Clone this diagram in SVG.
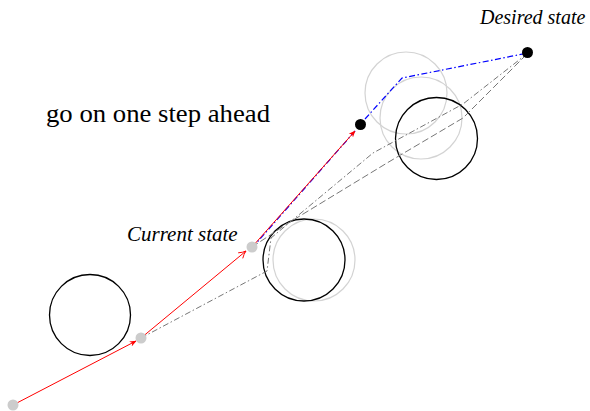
<svg xmlns="http://www.w3.org/2000/svg" width="590" height="411" viewBox="0 0 590 411">
<defs>
<style>
.obs{fill:none;stroke:#000;stroke-width:1.3}
.ghost{fill:none;stroke:#d3d3d3;stroke-width:1.2}
.gdot{fill:#cccccc}
.bdot{fill:#000}
.red{fill:none;stroke:#ff0000;stroke-width:1}
.blue{fill:none;stroke:#0000ff;stroke-width:1.2;stroke-dasharray:6 2.5 1.5 2.5}
.gdd{fill:none;stroke:#777;stroke-width:1;stroke-dasharray:6 2.5 1.5 2.5}
.gd{fill:none;stroke:#777;stroke-width:1;stroke-dasharray:7 3}
.lbl{font-family:"Liberation Serif",serif;fill:#000}
</style>
<marker id="ah" viewBox="0 0 10 10" refX="9" refY="5" markerWidth="7" markerHeight="7" orient="auto" markerUnits="userSpaceOnUse">
<path d="M0,1 L10,5 L0,9 L3,5 Z" fill="#ff0000"/>
</marker>
<marker id="ao" viewBox="0 0 10 10" refX="9" refY="5" markerWidth="9" markerHeight="9" orient="auto" markerUnits="userSpaceOnUse">
<path d="M1,1 Q5,4 9,5 Q5,6 1,9" fill="none" stroke="#ff0000" stroke-width="1"/>
</marker>
</defs>

<g id="obstacles">
<circle id="obs1" class="obs" cx="90" cy="315" r="40.5"/>
<circle id="ghost2" class="ghost" cx="314" cy="260" r="41"/>
<circle id="obs2" class="obs" cx="304" cy="260" r="41"/>
<circle id="ghost3a" class="ghost" cx="406" cy="93" r="41"/>
<circle id="ghost3b" class="ghost" cx="421" cy="118" r="41"/>
<circle id="obs3" class="obs" cx="436.5" cy="138.5" r="41"/>
</g>

<g id="connectors">
<path class="gdd" d="M141,338 L267,271 L271,238 L373,153 L463,104 L528,53"/>
<path class="gd" d="M252,247 L290,222 L387,163 L463,118 L528,53"/>
<path class="blue" d="M252,248 L356,130"/>
<path class="blue" d="M365,119 L402,78 L528,53"/>
<path class="red" d="M13,405 L136,341" marker-end="url(#ah)"/>
<path class="red" d="M141,338 L246,251" marker-end="url(#ao)"/>
<path class="red" d="M252,247 L355,131" marker-end="url(#ah)"/>
</g>

<g id="start"><circle class="gdot" cx="13" cy="405" r="5.5"/></g>
<g id="step1"><circle class="gdot" cx="141" cy="338" r="5.5"/></g>
<g id="current"><circle class="gdot" cx="252" cy="247" r="5.5"/>
<text class="lbl" x="127" y="241" font-size="21" font-style="italic">Current state</text></g>
<g id="next"><circle class="bdot" cx="360.5" cy="124.5" r="5.5"/></g>
<g id="desired"><circle class="bdot" cx="527.5" cy="52.5" r="5.5"/>
<text class="lbl" x="480" y="24" font-size="20" font-style="italic">Desired state</text></g>
<g id="caption"><text class="lbl" x="46" y="122" font-size="25" textLength="224" lengthAdjust="spacingAndGlyphs">go on one step ahead</text></g>
</svg>
